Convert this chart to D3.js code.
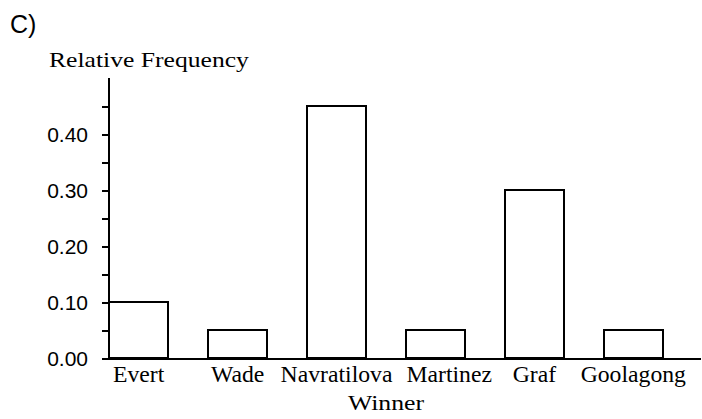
<!DOCTYPE html>
<html>
<head>
<meta charset="utf-8">
<script src="https://cdn.jsdelivr.net/npm/d3@7"></script>
<style>
  body { margin: 0; background: #fff; }
  svg { display: block; }
</style>
</head>
<body>
<div id="chart"></div>
<script>
const winners = ["Evert", "Wade", "Navratilova", "Martinez", "Graf", "Goolagong"];
const relFreq = [0.10, 0.05, 0.45, 0.05, 0.30, 0.05];
const tickValues = [0, 0.05, 0.10, 0.15, 0.20, 0.25, 0.30, 0.35, 0.40, 0.45];
const labelValues = [0, 0.10, 0.20, 0.30, 0.40];

const width = 702, height = 419;
const serif = "'Liberation Serif', 'Times New Roman', serif";
const sans = "'Liberation Sans', Arial, sans-serif";

const svg = d3.select("#chart").append("svg")
  .attr("width", width)
  .attr("height", height)
  .attr("shape-rendering", "crispEdges");

const x = d3.scaleBand()
  .domain(winners)
  .range([109, 663])
  .paddingInner(0.4)
  .paddingOuter(0)
  .align(0);

const y = d3.scaleLinear()
  .domain([0, 0.5])
  .range([358, 78]);

// stretch serif text a bit, the original font is wider than Times
function stretch(sel, k) {
  sel.each(function() {
    const w = this.getComputedTextLength();
    d3.select(this).attr("textLength", w * k).attr("lengthAdjust", "spacingAndGlyphs");
  });
}

// panel letter
svg.append("text")
  .attr("x", 10).attr("y", 33)
  .attr("font-family", sans)
  .attr("font-size", 25)
  .text("C)");

// y axis
const yAxis = svg.append("g")
  .attr("transform", "translate(109,0)")
  .call(d3.axisLeft(y)
    .tickValues(tickValues)
    .tickSize(7)
    .tickFormat(d => labelValues.some(v => Math.abs(v - d) < 1e-9) ? d3.format(".2f")(d) : ""));
yAxis.select(".domain").remove();
yAxis.selectAll(".tick line").attr("stroke", "#000").attr("stroke-width", 2);
yAxis.selectAll(".tick text")
  .attr("x", -21)
  .attr("dy", "0.36em")
  .attr("font-family", sans)
  .attr("font-size", 21)
  .attr("fill", "#000");

svg.append("line")
  .attr("x1", 109).attr("x2", 109)
  .attr("y1", y(0)).attr("y2", y(0.5))
  .attr("stroke", "#000").attr("stroke-width", 2);

// bars
svg.append("g")
  .selectAll("rect")
  .data(winners)
  .join("rect")
    .attr("x", d => x(d))
    .attr("y", (d, i) => y(relFreq[i]))
    .attr("width", x.bandwidth())
    .attr("height", (d, i) => y(0) - y(relFreq[i]))
    .attr("fill", "#fff")
    .attr("stroke", "#000")
    .attr("stroke-width", 2);

// baseline
svg.append("line")
  .attr("x1", 109).attr("x2", 701)
  .attr("y1", y(0) + 1).attr("y2", y(0) + 1)
  .attr("stroke", "#000").attr("stroke-width", 2);

// category labels, pushed right when they would touch the previous one
const labels = svg.append("g")
  .selectAll("text")
  .data(winners)
  .join("text")
    .attr("y", 382)
    .attr("font-family", serif)
    .attr("font-size", 23)
    .attr("text-anchor", "start")
    .text(d => d)
    .call(stretch, 1.03);

let prevRight = -Infinity;
labels.each(function(d) {
  const w = +d3.select(this).attr("textLength");
  let left = x(d) + x.bandwidth() / 2 - w / 2;
  if (left < prevRight + 14) left = prevRight + 14;
  d3.select(this).attr("x", left);
  prevRight = left + w;
});

// titles
svg.append("text")
  .attr("x", 49).attr("y", 67)
  .attr("font-family", serif)
  .attr("font-size", 21)
  .text("Relative Frequency")
  .call(stretch, 1.22);

const winnerTitle = svg.append("text")
  .attr("y", 410)
  .attr("font-family", serif)
  .attr("font-size", 22)
  .text("Winner")
  .call(stretch, 1.17);
const tw = +winnerTitle.attr("textLength");
winnerTitle.attr("x", (x.range()[0] + x.range()[1]) / 2 - tw / 2);
</script>
</body>
</html>
